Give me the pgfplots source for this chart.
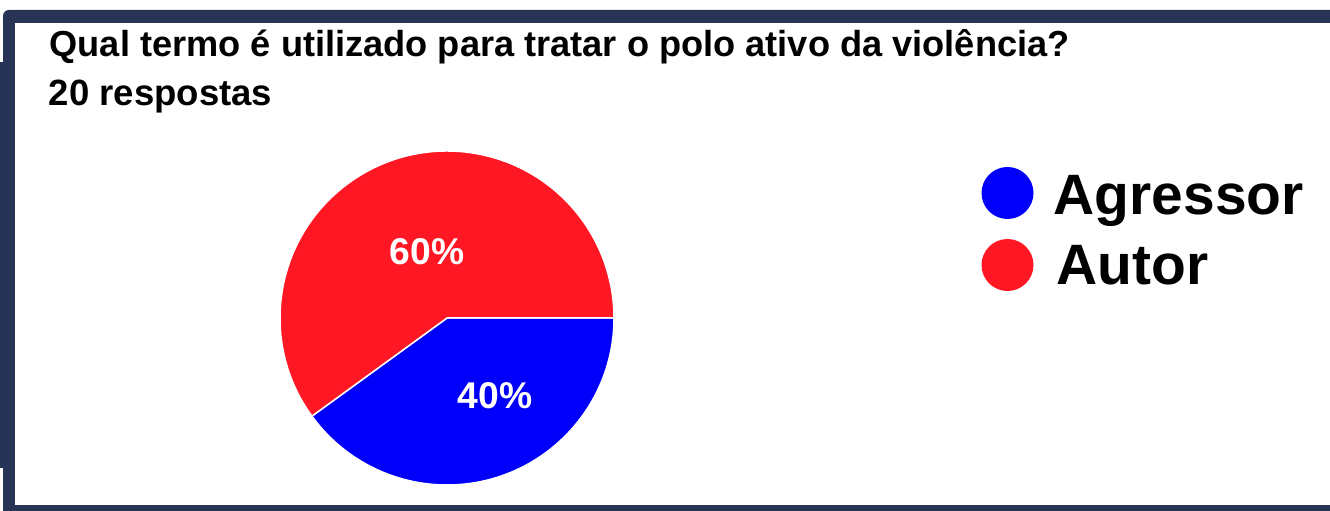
\documentclass[border=0pt]{standalone}
\usepackage{fontspec}
\setmainfont{Liberation Sans}
\usepackage{pgfplots}
\usepackage{pgfplotstable}
\pgfplotsset{compat=1.18}
\definecolor{pieblue}{RGB}{0,0,250}
\definecolor{piered}{RGB}{255,24,36}
\definecolor{frame}{RGB}{40,52,86}

\pgfplotstableread{
label value
Agressor 40
Autor 60
}\piedata

\pgfplotstablegetelem{0}{value}\of\piedata
\pgfmathsetmacro{\angA}{-3.6*\pgfplotsretval}
\pgfplotstablegetelem{1}{value}\of\piedata
\pgfmathsetmacro{\angB}{\angA-3.6*\pgfplotsretval}

\begin{document}
\begin{tikzpicture}
\begin{axis}[
  width=13.3cm, height=5.11cm, scale only axis,
  xmin=0, xmax=1330, ymin=0, ymax=511, y dir=reverse,
  hide axis, clip=true,
]
% background and frame
\fill[white] (axis cs:0,0) rectangle (axis cs:1330,511);
\fill[frame, rounded corners=0.6mm] (axis cs:3,10) rectangle (axis cs:1340,23);
\fill[frame] (axis cs:3,18) rectangle (axis cs:15,511);
\fill[frame] (axis cs:0,62) rectangle (axis cs:5,468);
\fill[frame] (axis cs:3,505) rectangle (axis cs:1330,511);
% pie
\fill[pieblue, draw=white, line width=0.15mm] (axis cs:447,318) -- ++(0:1.67cm) arc[start angle=0, end angle=\angA, radius=1.67cm] -- cycle;
\fill[piered, draw=white, line width=0.15mm] (axis cs:447,318) -- ++(\angA:1.67cm) arc[start angle=\angA, end angle=\angB, radius=1.67cm] -- cycle;
\node[text=white, font=\fontsize{10.6}{12}\selectfont\bfseries] at (axis cs:427,252) {60\%};
\node[text=white, font=\fontsize{10.6}{12}\selectfont\bfseries] at (axis cs:495,396) {40\%};
% titles
\node[anchor=base west, inner sep=0pt, font=\fontsize{10.3}{12}\selectfont\bfseries] at (axis cs:49,57) {Qual termo é utilizado para tratar o polo ativo da violência?};
\node[anchor=base west, inner sep=0pt, font=\fontsize{10.4}{12}\selectfont\bfseries] at (axis cs:48,106) {20 respostas};
% legend
\node[circle, fill=pieblue, inner sep=0pt, minimum size=5.2mm] at (axis cs:1007.5,193) {};
\node[circle, fill=piered, inner sep=0pt, minimum size=5.2mm] at (axis cs:1007.5,265) {};
\node[anchor=base west, inner sep=0pt, font=\fontsize{16.2}{19}\selectfont\bfseries] at (axis cs:1053,215) {Agressor};
\node[anchor=base west, inner sep=0pt, font=\fontsize{16.2}{19}\selectfont\bfseries] at (axis cs:1056,285) {Autor};
\end{axis}
\end{tikzpicture}
\end{document}
